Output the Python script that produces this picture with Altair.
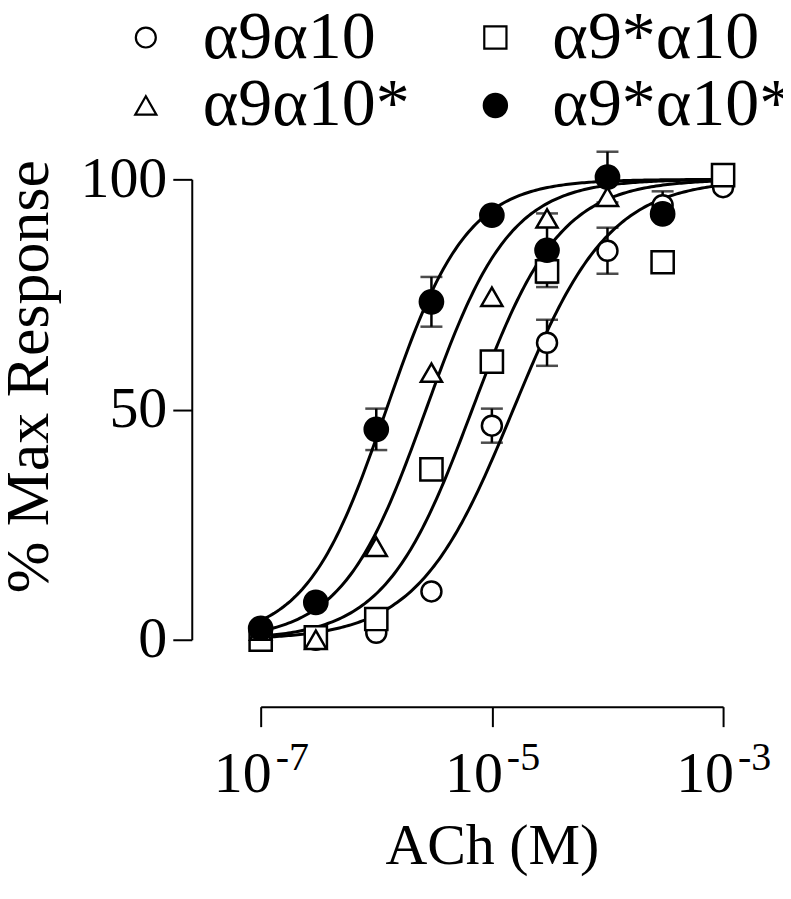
import altair as alt
import pandas as pd

FONT = "Liberation Serif"

series = ["α9α10", "α9*α10", "α9α10*", "α9*α10*"]
conc = [1e-7, 3e-7, 1e-6, 3e-6, 1e-5, 3e-5, 1e-4, 3e-4, 1e-3]

# mean responses (% max); None = no visible point
resp_a9a10 = [0, 0, 1.5, 10.5, 46.5, 64.5, 84.5, 94.4, 98.3]
err_a9a10 = [0, 0, 0, 0, 3.7, 5.0, 5.0, 3.0, 0]
resp_a9s_a10 = [0, 0.5, 4.5, 37.0, 60.4, 80.0, None, 82.0, 100.9]
err_a9s_a10 = [0, 0, 0, 0, 0, 2.5, 0, 0, 0]
resp_a9a10s = [2.0, 0, 20.2, 58.0, 74.5, 91.5, 96.2, None, None]
err_a9a10s = [0, 0, 0, 0, 0, 0, 0, 0, 0]
resp_a9s_a10s = [2.5, 8.1, 45.7, 73.4, 92.2, 84.6, 100.5, 92.5, None]
err_a9s_a10s = [0, 0, 4.5, 5.4, 0, 8.0, 5.5, 0, 0]

# Hill-fit parameters
log_ec50 = [-4.815, -5.17, -5.57, -5.913]
hill_n = [1.05, 1.15, 1.2, 1.25]

shapes = ["circle", "square", "triangle-up", "circle"]
fills = ["white", "white", "white", "black"]
sizes = [400, 420, 540, 400]
# legend order (grid fills column by column)
legend_order = ["α9α10", "α9α10*", "α9*α10", "α9*α10*"]

resp_all = [resp_a9a10, resp_a9s_a10, resp_a9a10s, resp_a9s_a10s]
err_all = [err_a9a10, err_a9s_a10, err_a9a10s, err_a9s_a10s]

rows = []
for s, rs, es in zip(series, resp_all, err_all):
    for c, r, e in zip(conc, rs, es):
        if r is None:
            continue
        rows.append({"series": s, "conc": c, "resp": r, "err": e,
                     "lo": r - e, "hi": r + e})
df = pd.DataFrame(rows)
df_err = df[df["err"] > 0].copy()

tick_vals = [1e-7, 1e-5, 1e-3]
tick_exp = ["-7", "-5", "-3"]
df_ticks = pd.DataFrame({"conc": tick_vals, "exp": tick_exp})

W = 463
H = 461

xscale = alt.Scale(type="log", domain=[1e-7, 1e-3], nice=False)
yscale = alt.Scale(domain=[0, 100], nice=False)

xaxis = alt.Axis(values=tick_vals, labels=False, offset=67, tickSize=20,
                 title="ACh (M)", titleFont=FONT, titleFontSize=58,
                 titleFontWeight="normal", titleColor="black",
                 titlePadding=90, grid=False)
yaxis = alt.Axis(values=[0, 50, 100], offset=69, tickSize=19, labelPadding=6,
                 labelFont=FONT, labelFontSize=58, labelColor="black",
                 title="% Max Response", titleFont=FONT, titleFontSize=62,
                 titleFontWeight="normal", titleColor="black",
                 titleX=-144, titleY=197, titleBaseline="alphabetic",
                 titleAngle=270, grid=False)

X = alt.X("conc:Q", scale=xscale, axis=xaxis)
Y = alt.Y("resp:Q", scale=yscale, axis=yaxis)

params = {f"c{i}": f"100/(1+pow(10,({hill_n[i]})*(({log_ec50[i]})-datum.lx)))"
          for i in range(4)}
curves = (
    alt.Chart(alt.sequence(-7, -2.995, 0.02, as_="lx"))
    .transform_calculate(conc="pow(10, datum.lx)", **params)
    .transform_fold(["c0", "c1", "c2", "c3"], as_=["key", "resp"])
    .mark_line(color="black", strokeWidth=3)
    .encode(x=X, y=Y, detail="key:N")
)

stems = alt.Chart(df_err).mark_rule(color="black", strokeWidth=2.5).encode(
    x=alt.X("conc:Q", scale=xscale), y=alt.Y("lo:Q", scale=yscale), y2="hi:Q")

caps = (
    alt.Chart(df_err)
    .transform_fold(["lo", "hi"], as_=["end", "val"])
    .mark_tick(color="black", thickness=2.5, size=22, orient="horizontal")
    .encode(x=alt.X("conc:Q", scale=xscale), y=alt.Y("val:Q", scale=yscale))
)

leg = alt.Legend(title=None)
points = alt.Chart(df).mark_point(filled=True, strokeWidth=2.5,
                                  opacity=1).encode(
    x=X, y=Y,
    shape=alt.Shape("series:N", scale=alt.Scale(domain=legend_order,
                    range=[shapes[series.index(s)] for s in legend_order]),
                    legend=leg),
    fill=alt.Fill("series:N", scale=alt.Scale(domain=legend_order,
                  range=[fills[series.index(s)] for s in legend_order]),
                  legend=leg),
    stroke=alt.Stroke("series:N", scale=alt.Scale(domain=legend_order,
                      range=["black"] * 4), legend=leg),
    size=alt.Size("series:N", scale=alt.Scale(domain=legend_order,
                  range=[sizes[series.index(s)] for s in legend_order]),
                  legend=leg),
)

lab10 = alt.Chart(df_ticks).mark_text(
    text="10", font=FONT, fontSize=58, align="right", baseline="alphabetic",
    dx=11, color="black").encode(x=alt.X("conc:Q", scale=xscale),
                                 y=alt.value(H + 152))
labexp = alt.Chart(df_ticks).mark_text(
    font=FONT, fontSize=40, align="left", baseline="alphabetic",
    dx=15, color="black").encode(x=alt.X("conc:Q", scale=xscale),
                                 y=alt.value(H + 130), text="exp:N")

chart = (
    alt.layer(curves, stems, caps, points, lab10, labexp)
    .properties(width=W, height=H,
                autosize=alt.AutoSizeParams(type="none"),
                padding={"left": 253, "top": 171, "right": 60, "bottom": 250})
    .configure_view(stroke=None)
    .configure_axis(domainColor="black", domainWidth=2, tickColor="black",
                    tickWidth=2)
    .configure_legend(orient="none", legendX=-149, legendY=-176, columns=2,
                      labelFont=FONT, labelFontSize=68, labelColor="black",
                      symbolStrokeWidth=2.2,
                      symbolStrokeColor="black", labelOffset=23,
                      columnPadding=51, rowPadding=0, padding=0,
                      labelLimit=400)
)

chart.save("out.html", embed_options={"renderer": "svg", "actions": False})
